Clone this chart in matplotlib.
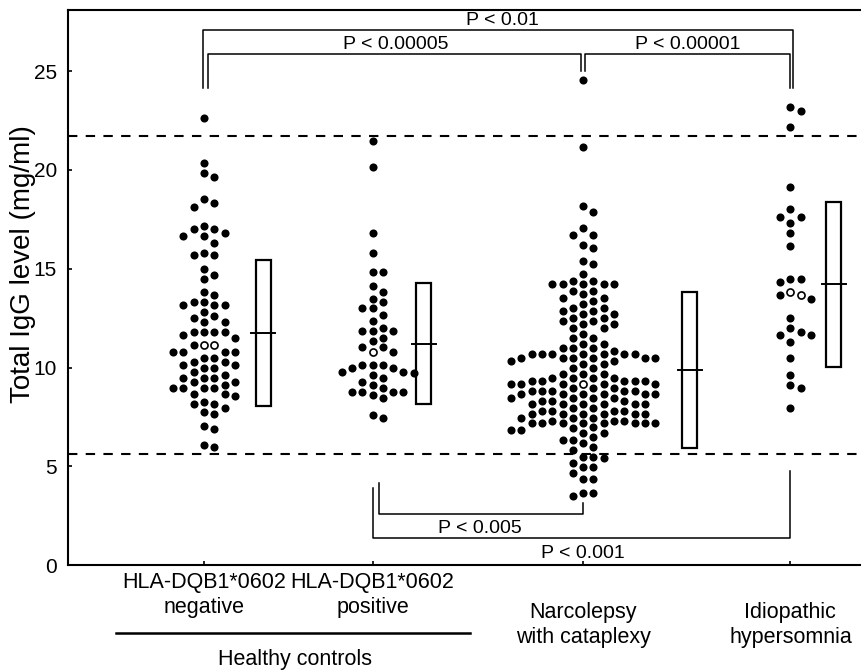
import numpy as np
import matplotlib.pyplot as plt
from matplotlib.patches import Rectangle
import matplotlib.transforms as mtransforms

plt.rcParams['font.family'] = ['Liberation Sans', 'DejaVu Sans']

# IgG values (mg/ml)
neg_vals = [22.65, 20.34, 19.83, 19.63, 18.52, 18.31, 18.14,
            17.16, 17.0, 17.0, 16.83, 16.66, 16.66, 16.32, 15.81, 15.68, 15.68,
            14.99, 14.67, 14.48, 13.84, 13.67, 13.33, 13.33, 13.16, 13.16, 13.16,
            12.83, 12.62, 12.49, 12.32, 12.32, 11.81, 11.81, 11.81, 11.81, 11.65, 11.48,
            11.14, 10.8, 10.8, 10.8, 10.8, 10.46, 10.46, 10.29, 10.29,
            10.13, 10.13, 9.96, 9.96, 9.79, 9.62, 9.45, 9.45, 9.45, 9.28, 9.28,
            9.11, 8.98, 8.98, 8.98, 8.98, 8.64, 8.64, 8.57,
            8.27, 8.14, 8.14, 7.93, 7.76, 7.63, 7.04, 6.87, 6.08, 5.96]
neg_open = [11.14, 11.14]

pos_vals = [21.48, 20.14, 16.83, 15.82, 14.84, 14.84, 14.14, 13.81, 13.49, 13.32,
            13.0, 13.0, 12.64, 12.34, 12.0, 11.83, 11.83, 11.83, 11.49, 11.33,
            11.02, 11.02, 10.8, 10.13, 10.13, 10.13, 9.96, 9.96, 9.79, 9.79,
            9.7, 9.62, 9.45, 9.28, 9.11, 8.95, 8.78, 8.78, 8.78, 8.78, 8.61, 8.44,
            7.59, 7.43]
pos_open = [10.8]

nc_vals = [24.56, 21.18, 18.19, 17.86, 17.05, 16.71, 16.71, 16.2, 16.03, 15.39, 15.22,
           14.72, 14.38, 14.38, 14.21, 14.21, 14.21, 14.21, 14.21, 13.87, 13.87, 13.71,
           13.54, 13.54, 13.37, 13.2, 13.03, 13.03, 12.86, 12.86, 12.69, 12.69,
           12.52, 12.52, 12.35, 12.35, 12.19, 12.19, 12.02, 12.02, 11.68, 11.51, 11.51,
           11.17, 11.17, 11.0, 11.0, 11.0, 10.84,
           10.67, 10.67, 10.67, 10.67, 10.67, 10.67, 10.67,
           10.5, 10.5, 10.5, 10.5, 10.5, 10.5, 10.33, 10.33, 10.16, 10.16, 9.99, 9.99,
           9.65, 9.65, 9.65, 9.48, 9.48, 9.48, 9.48, 9.32, 9.32, 9.32, 9.32, 9.32,
           9.15, 9.15, 9.15, 9.15, 9.15, 8.98, 8.98, 8.98,
           8.81, 8.81, 8.81, 8.81, 8.81, 8.64, 8.64, 8.64, 8.64, 8.64, 8.64,
           8.47, 8.47, 8.47, 8.47, 8.3, 8.3, 8.3,
           8.14, 8.14, 8.14, 8.14, 8.14, 8.14, 7.97, 7.97,
           7.8, 7.8, 7.8, 7.8, 7.63, 7.63, 7.63, 7.63, 7.63, 7.63,
           7.46, 7.46, 7.46, 7.29, 7.29, 7.29,
           7.17, 7.17, 7.17, 7.17, 7.17, 7.17, 7.17, 7.17, 7.0, 6.95, 6.84, 6.84,
           6.67, 6.67, 6.5, 6.33, 6.33, 6.16, 5.99, 5.82, 5.48, 5.48, 5.4, 5.15,
           4.98, 4.98, 4.64, 4.34, 4.34, 3.66, 3.66, 3.49]
nc_open = [9.15]

ih_vals = [23.17, 22.99, 22.16, 19.16, 18.03, 17.64, 17.64, 17.33, 16.83, 16.17,
           14.48, 14.48, 14.31, 13.67, 13.49, 12.49, 11.98, 11.81, 11.65, 11.65,
           11.31, 10.5, 9.62, 9.11, 8.98, 7.93]
ih_open = [13.84, 13.67]

means = [11.75, 11.2, 9.85, 14.22]
sds = [3.7, 3.06, 3.95, 4.17]

normal_hi = 21.72
normal_lo = 5.62

# layout
pos = [1.0, 2.0, 3.25, 4.48]
box_off = [0.353, 0.303, 0.632, 0.258]

fig = plt.figure(figsize=(8.61, 6.72), dpi=100)
ax = fig.add_axes([0.079, 0.1592, 0.9408, 0.8259])
ax.set_xlim(0.193, 5.0)
ax.set_ylim(0, 28.1)

ppx = ax.transData.transform((1, 0))[0] - ax.transData.transform((0, 0))[0]
ppy = ax.transData.transform((0, 1))[1] - ax.transData.transform((0, 0))[1]
colw = 10.3 / ppx


def swarm(vals, min_dy=9.0):
    vals = np.asarray(vals)
    order = np.argsort(-vals, kind='stable')
    cols = {}
    offs = np.zeros(len(vals))
    for i in order:
        y = vals[i] * ppy
        k = 0
        n = 0
        while True:
            if all(abs(y - yy) >= min_dy for yy in cols.get(k, [])):
                break
            n += 1
            k = (n + 1) // 2 if n % 2 == 1 else -(n // 2)
        cols.setdefault(k, []).append(y)
        offs[i] = k * colw
    return offs


groups = [(neg_vals, neg_open), (pos_vals, pos_open), (nc_vals, nc_open), (ih_vals, ih_open)]
for g, (vals, opens) in enumerate(groups):
    # hollow (median) points first so they sit near the centre of the swarm
    allv = list(opens) + list(vals)
    is_open = np.array([True] * len(opens) + [False] * len(vals))
    offs = swarm(allv)
    allv = np.array(allv)
    x = pos[g] + offs
    ax.scatter(x[~is_open], allv[~is_open], s=34, color='black', lw=0, zorder=3)
    ax.scatter(x[is_open], allv[is_open], s=26, facecolor='white', edgecolor='black',
               lw=1.2, zorder=3)
    # mean +/- SD box
    bx = pos[g] + box_off[g]
    bw = 15 / ppx
    ax.add_patch(Rectangle((bx - bw / 2, means[g] - sds[g]), bw, 2 * sds[g],
                           fill=False, lw=1.6, ec='black', zorder=2))
    ax.plot([bx - 12 / ppx, bx + 12 / ppx], [means[g], means[g]], color='black', lw=1.4)

ax.axhline(normal_hi, color='black', lw=1.5, ls=(0, (4.5, 4)), zorder=1)
ax.axhline(normal_lo, color='black', lw=1.5, ls=(0, (4.5, 4)), zorder=1)

# significance brackets
blw = 1.1
ax.plot([pos[0] - 0.008, pos[0] - 0.008, pos[3] + 0.018, pos[3] + 0.018],
        [24.15, 27.09, 27.09, 24.15], color='black', lw=blw)
ax.plot([pos[0] + 0.024, pos[0] + 0.024, pos[2] - 0.012, pos[2] - 0.012],
        [24.15, 25.87, 25.87, 25.01], color='black', lw=blw)
ax.plot([pos[2] + 0.012, pos[2] + 0.012, pos[3], pos[3]],
        [25.01, 25.87, 25.87, 24.15], color='black', lw=blw)
ax.text(2.769, 27.12, 'P < 0.01', ha='center', va='bottom', fontsize=14)
ax.text(2.139, 25.9, 'P < 0.00005', ha='center', va='bottom', fontsize=14)
ax.text(3.872, 25.9, 'P < 0.00001', ha='center', va='bottom', fontsize=14)

ax.plot([pos[1] + 0.04, pos[1] + 0.04, pos[2], pos[2]],
        [4.15, 2.58, 2.58, 3.14], color='black', lw=blw)
ax.plot([pos[1] + 0.003, pos[1] + 0.003, pos[3], pos[3]],
        [3.9, 1.37, 1.37, 4.76], color='black', lw=blw)
ax.text(2.638, 1.87, 'P < 0.005', ha='center', va='center', fontsize=14)
ax.text(pos[2], 0.56, 'P < 0.001', ha='center', va='center', fontsize=14)

# axes styling
for side in ['left', 'bottom', 'top']:
    ax.spines[side].set_linewidth(1.5)
ax.spines['right'].set_visible(False)
ax.set_yticks([0, 5, 10, 15, 20, 25])
ax.set_xticks(pos)
ax.set_xticklabels([])
ax.tick_params(direction='in', length=3, width=1.2, labelsize=15, pad=8)
ax.set_ylabel('Total IgG level (mg/ml)', fontsize=20)
ax.yaxis.set_label_coords(-0.04, 0.543)

# category labels
trans = mtransforms.blended_transform_factory(ax.transData, ax.transAxes)
ax.text(pos[0], -0.032, 'HLA-DQB1*0602', transform=trans, ha='center', va='center', fontsize=15.5)
ax.text(pos[0], -0.076, 'negative', transform=trans, ha='center', va='center', fontsize=15.5)
ax.text(pos[1], -0.032, 'HLA-DQB1*0602', transform=trans, ha='center', va='center', fontsize=15.5)
ax.text(pos[1], -0.076, 'positive', transform=trans, ha='center', va='center', fontsize=15.5)
ax.plot([pos[0] - 0.52, pos[1] + 0.58], [-0.1225, -0.1225], transform=trans,
        color='black', lw=1.8, clip_on=False)
ax.text((pos[0] + pos[1]) / 2 + 0.04, -0.171, 'Healthy controls', transform=trans,
        ha='center', va='center', fontsize=15.5)
ax.text(pos[2], -0.085, 'Narcolepsy', transform=trans, ha='center', va='center', fontsize=15.5)
ax.text(pos[2], -0.13, 'with cataplexy', transform=trans, ha='center', va='center', fontsize=15.5)
ax.text(pos[3], -0.085, 'Idiopathic', transform=trans, ha='center', va='center', fontsize=15.5)
ax.text(pos[3], -0.13, 'hypersomnia', transform=trans, ha='center', va='center', fontsize=15.5)

fig.savefig('out.png', dpi=100)
